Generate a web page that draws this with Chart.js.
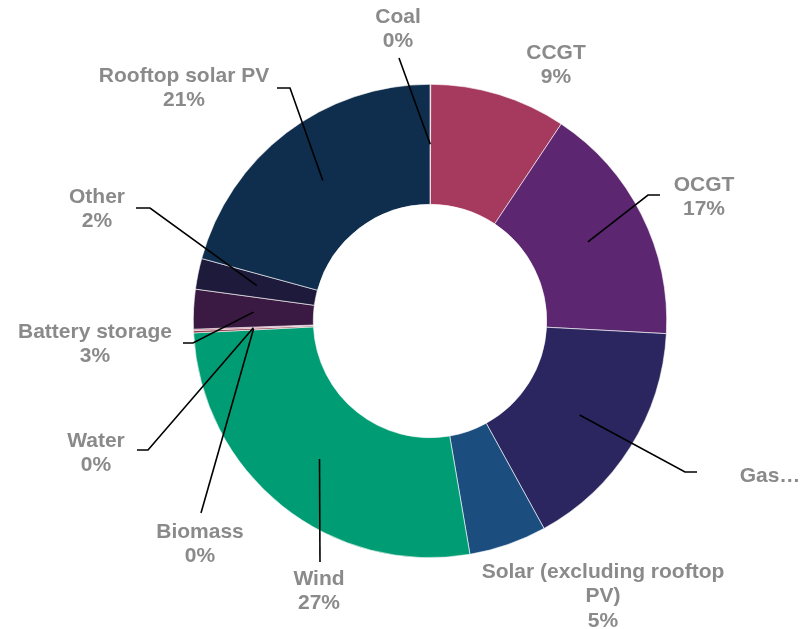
<!DOCTYPE html>
<html>
<head>
<meta charset="utf-8">
<script src="https://cdn.jsdelivr.net/npm/chart.js@4"></script>
<style>
  body { margin: 0; background: #fff; }
  canvas { display: block; }
</style>
</head>
<body>
<canvas id="mix-chart" width="801" height="629"></canvas>
<script>
// generation mix shares (%), clockwise from the top
const categories = ['Coal', 'CCGT', 'OCGT', 'Gas…', 'Solar (excluding rooftop PV)', 'Wind',
    'Biomass', 'Water', 'Battery storage', 'Other', 'Rooftop solar PV'];
const shares = [0.05, 9.3, 16.5, 16.15, 5.3, 26.9, 0.15, 0.1, 2.7, 2.1, 20.75];
const colours = ['#6d6e71', '#a63a5e', '#5c2670', '#2c2660', '#1b4d7e', '#009c73',
    '#8c3a4a', '#c0607e', '#3a1a42', '#1e1a3c', '#0f2d4d'];

// where each label sits (text centre, top line) and the bend of its leader line
const labelSpots = [
    { x: 398, y: 17, bend: [399, 58], end: null },
    { x: 556, y: 53, bend: null, end: null },
    { x: 704, y: 185, bend: [648, 195], end: [660, 195] },
    { x: 770, y: 476, bend: [685, 472], end: [697, 472] },
    { x: 603, y: 572, bend: null, end: null },
    { x: 319, y: 579, bend: [320, 562], end: null },
    { x: 200, y: 532, bend: [201, 513], end: null },
    { x: 96, y: 441, bend: [148, 450], end: [137, 450] },
    { x: 95, y: 332, bend: [193, 343], end: [183, 343] },
    { x: 97, y: 197, bend: [150, 208], end: [136, 208] },
    { x: 184, y: 76, bend: [290, 88], end: [277, 88] }
];

const outsideLabels = {
    id: 'outsideLabels',
    afterDraw(chart) {
        const ctx = chart.ctx;
        const arcs = chart.getDatasetMeta(0).data;
        ctx.save();
        // leader lines
        ctx.strokeStyle = '#000';
        ctx.lineWidth = 1.6;
        arcs.forEach((arc, i) => {
            const spot = labelSpots[i];
            if (!spot.bend) return;
            const p = arc.getCenterPoint();
            ctx.beginPath();
            ctx.moveTo(p.x, p.y);
            ctx.lineTo(spot.bend[0], spot.bend[1]);
            if (spot.end) ctx.lineTo(spot.end[0], spot.end[1]);
            ctx.stroke();
        });
        // text
        ctx.font = 'bold 21px "Liberation Sans", Arial, sans-serif';
        ctx.fillStyle = '#8a8a8a';
        ctx.textAlign = 'center';
        ctx.textBaseline = 'middle';
        categories.forEach((name, i) => {
            const spot = labelSpots[i];
            const lines = [];
            let cur = '';
            name.split(' ').forEach(w => {
                const test = cur ? cur + ' ' + w : w;
                if (ctx.measureText(test).width > 262 && cur) {
                    lines.push(cur);
                    cur = w;
                } else {
                    cur = test;
                }
            });
            lines.push(cur);
            if (!name.endsWith('…')) lines.push(Math.round(shares[i]) + '%');
            lines.forEach((t, k) => ctx.fillText(t, spot.x, spot.y + k * 24.5));
        });
        ctx.restore();
    }
};

new Chart(document.getElementById('mix-chart'), {
    type: 'doughnut',
    data: {
        labels: categories,
        datasets: [{
            data: shares,
            backgroundColor: colours,
            borderColor: '#fff',
            borderWidth: 0.6
        }]
    },
    options: {
        responsive: false,
        animation: false,
        cutout: '49.3%',
        layout: { padding: { left: 193, right: 134, top: 84, bottom: 71 } },
        plugins: {
            legend: { display: false },
            tooltip: { enabled: false }
        }
    },
    plugins: [outsideLabels]
});
</script>
</body>
</html>
